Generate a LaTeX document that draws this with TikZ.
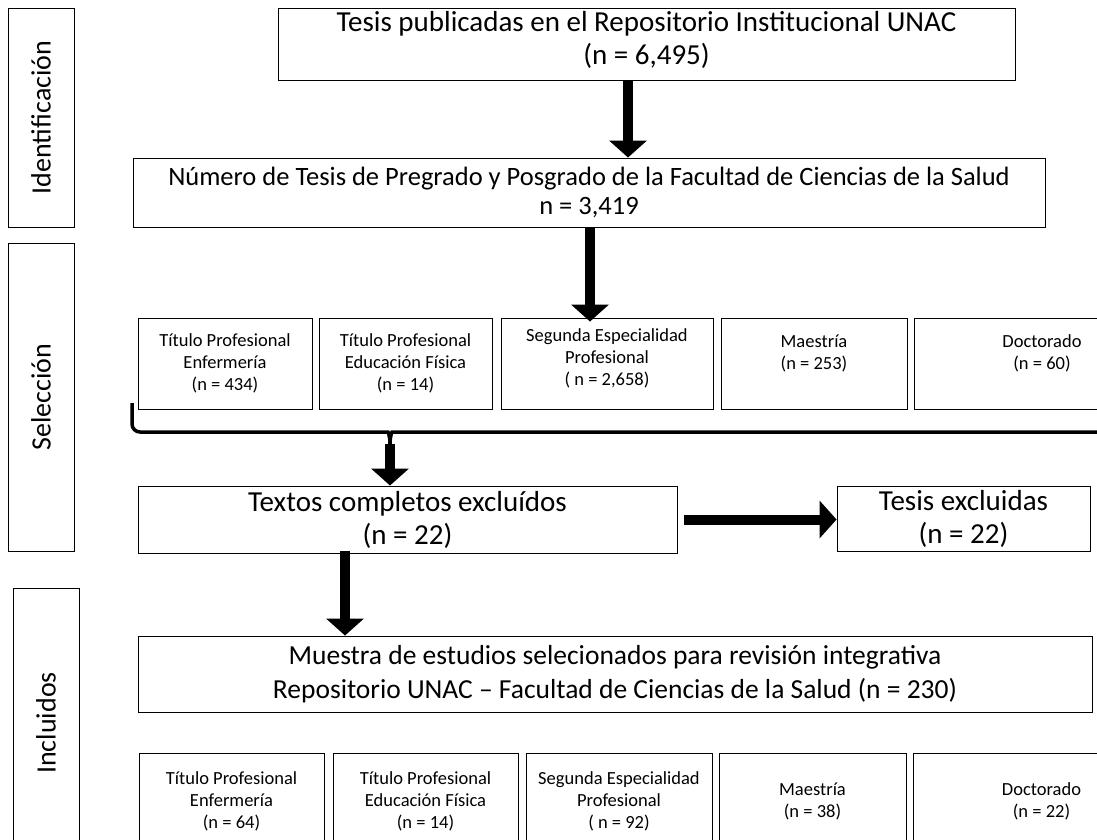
\documentclass[tikz,border=0pt]{standalone}
\usepackage{fontspec}
\setmainfont{Carlito}
\usetikzlibrary{arrows.meta}

\tikzset{
  stage/.style={draw, line width=1pt, inner sep=0pt, rotate=90, minimum height=66pt, font=\fontsize{28}{32}\selectfont},
  bigbox/.style={draw, line width=1pt, inner sep=0pt, align=center, font=\fontsize{29}{33}\selectfont},
  smallbox/.style={draw, line width=1pt, inner sep=0pt, align=center, font=\fontsize{18.5}{22}\selectfont},
  fat/.style={line width=10pt, -{Triangle[width=38pt,length=17pt,line width=0pt]}},
  brace line/.style={line width=3.5pt, rounded corners=8pt},
}

\begin{document}
\begin{tikzpicture}[x=1pt,y=-1pt]
\useasboundingbox (0,0) rectangle (1097,839);

% etapas
\node[stage, minimum width=219pt] (ident) at (41,117.5) {Identificación};
\node[stage, minimum width=308pt] (selec) at (41,397) {Selección};
\node[stage, minimum width=270pt] (incl) at (46,723) {Incluidos};

% identificacion
\node[bigbox, minimum width=737pt, minimum height=72pt] (tesis) at (646.5,44) {Tesis publicadas en el Repositorio Institucional UNAC\\(n = 6,495)\\[-20pt]\mbox{}};
\node[bigbox, minimum width=912pt, minimum height=69pt, font=\fontsize{26.5}{29}\selectfont] (numero) at (589,192.5) {Número de Tesis de Pregrado y Posgrado de la Facultad de Ciencias de la Salud\\n = 3,419};

% seleccion
\node[smallbox, minimum width=174pt, minimum height=91pt] (enf) at (225,363.5) {Título Profesional\\Enfermería\\(n = 434)};
\node[smallbox, minimum width=173pt, minimum height=91pt] (fis) at (405.5,363.5) {Título Profesional\\Educación Física\\(n = 14)};
\node[smallbox, minimum width=212pt, minimum height=91pt] (seg) at (607,363.5) {Segunda Especialidad\\Profesional\\( n = 2,658)\\[-10pt]\mbox{}};
\node[smallbox, minimum width=186pt, minimum height=91pt] (mae) at (814,363.5) {Maestría\\(n = 253)\\\mbox{}};
\node[smallbox, minimum width=256pt, minimum height=91pt] (doc) at (1042,363.5) {Doctorado\\(n = 60)\\\mbox{}};

\coordinate (bracetip) at (390,444);
\draw[brace line] (132,403) -- (132,432) -- (380,432) .. controls (388,432) and (390,436) .. (bracetip);
\draw[brace line] (1110,432) -- (400,432) .. controls (392,432) and (390,436) .. (bracetip);

\node[bigbox, minimum width=539pt, minimum height=67pt] (textos) at (407.5,519.5) {Textos completos excluídos\\(n = 22)};
\node[bigbox, minimum width=253pt, minimum height=65pt] (excl) at (963.5,518.5) {Tesis excluidas\\(n = 22)};

% incluidos
\node[bigbox, minimum width=954pt, minimum height=76pt, font=\fontsize{27.5}{34}\selectfont] (muestra) at (615,674) {Muestra de estudios selecionados para revisión integrativa\\Repositorio UNAC -- Facultad de Ciencias de la Salud (n = 230)};

\node[smallbox, minimum width=185pt, minimum height=96pt] (enf2) at (231.5,801) {Título Profesional\\Enfermería\\(n = 64)};
\node[smallbox, minimum width=185pt, minimum height=96pt] (fis2) at (425.5,801) {Título Profesional\\Educación Física\\(n = 14)};
\node[smallbox, minimum width=186pt, minimum height=96pt] (seg2) at (619,801) {Segunda Especialidad\\Profesional\\( n = 92)};
\node[smallbox, minimum width=187pt, minimum height=96pt] (mae2) at (812.5,801) {Maestría\\(n = 38)};
\node[smallbox, minimum width=257pt, minimum height=96pt] (doc2) at (1041.5,801) {Doctorado\\(n = 22)};

% flechas
\draw[fat] ([xshift=-18.5pt]tesis.south) -- ([xshift=-18.5pt]tesis.south |- numero.north);
\draw[fat] ([xshift=1pt]numero.south) -- ([xshift=1pt,yshift=-4pt]numero.south |- seg.north);
\draw[fat] (bracetip) -- (bracetip |- textos.north);
\draw[fat] ([xshift=6pt]textos.east) -- (excl.west |- textos.east);
\draw[fat] ([xshift=-62.5pt,yshift=3pt]textos.south) -- ([xshift=-62.5pt]textos.south |- muestra.north);
\end{tikzpicture}
\end{document}
